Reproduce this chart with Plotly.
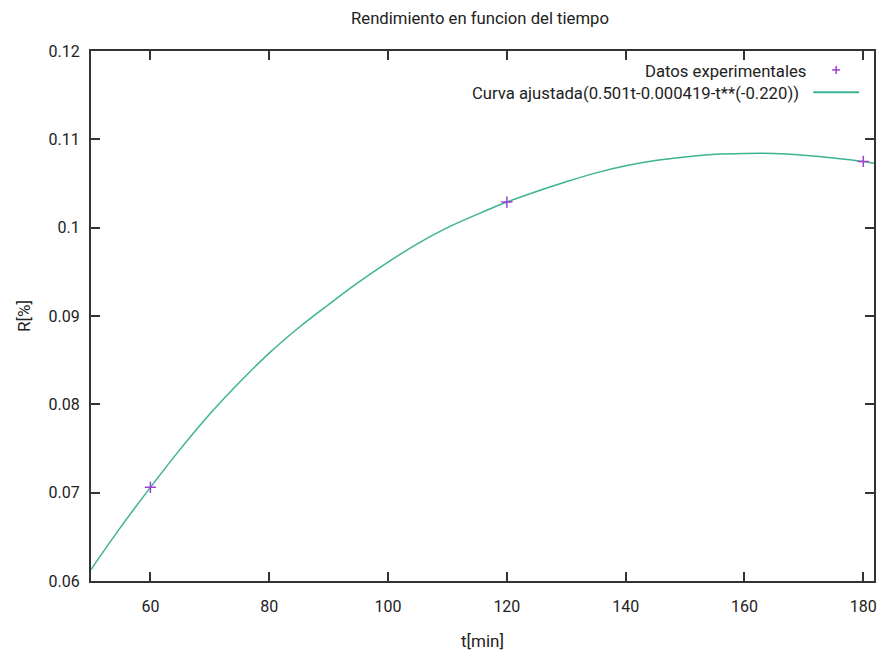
import plotly.graph_objects as go

# Experimental data
t_exp = [60, 120, 180]
r_exp = [0.0706, 0.1029, 0.1075]

# Fitted curve, values
t_fit = [50, 55, 60, 65, 70, 75, 80, 85, 90, 95, 100, 105, 110, 115, 120,
         125, 130, 135, 140, 145, 150, 155, 160, 165, 170, 175, 180, 181.8]
r_fit = [0.0613, 0.0661, 0.0706, 0.0749, 0.0789, 0.0825, 0.0858, 0.0887, 0.0913,
         0.0938, 0.0961, 0.0982, 0.1000, 0.1015, 0.1029, 0.1041, 0.1052, 0.1062,
         0.1070, 0.1076, 0.1080, 0.1083, 0.1084, 0.1084, 0.1082, 0.1079, 0.1075, 0.1073]

x_ticks = [60, 80, 100, 120, 140, 160, 180]
y_ticks = [0.06, 0.07, 0.08, 0.09, 0.10, 0.11, 0.12]
y_ticktext = ["0.06", "0.07", "0.08", "0.09", "0.1", "0.11", "0.12"]

title = "Rendimiento en funcion del tiempo"
x_label = "t[min]"
y_label = "R[%]"
legend_names = ["Datos experimentales", "Curva ajustada(0.501t-0.000419-t**(-0.220))"]

purple = "#9f3fd4"
teal = "#3db394"
axis_col = "#333333"
txt_col = "#222222"
FONT = "Roboto"

W, H = 884, 655
L, R, T, B = 91, 7, 51, 72

fig = go.Figure()
fig.add_trace(go.Scatter(x=t_fit, y=r_fit, mode="lines",
                         line=dict(color=teal, width=1.5, shape="spline", smoothing=1.0),
                         name=legend_names[1], showlegend=False))
fig.add_trace(go.Scatter(x=t_exp, y=r_exp, mode="markers",
                         marker=dict(symbol="cross-thin", size=8, line=dict(color=purple, width=1.5)),
                         name=legend_names[0], showlegend=False))

axis_common = dict(showline=True, linecolor=axis_col, linewidth=2, mirror="allticks",
                   ticks="inside", ticklen=9, tickwidth=1.5, tickcolor=axis_col,
                   showgrid=False, zeroline=False,
                   tickfont=dict(family=FONT, size=16, color=txt_col))

fig.update_layout(
    width=W, height=H,
    margin=dict(l=L, r=R, t=T, b=B),
    paper_bgcolor="white", plot_bgcolor="white",
    title=dict(text=title, x=480 / W, xanchor="center", y=1 - 18 / H, yanchor="middle",
               font=dict(family=FONT, size=16.7, color=txt_col)),
    xaxis=dict(range=[50, 181.8], tickvals=x_ticks, ticklabelstandoff=10,
               title=dict(text=x_label, font=dict(family=FONT, size=17, color=txt_col), standoff=20),
               **axis_common),
    yaxis=dict(range=[0.06, 0.12], tickvals=y_ticks, ticktext=y_ticktext, ticklabelstandoff=6,
               title=dict(text=y_label, font=dict(family=FONT, size=17, color=txt_col), standoff=14),
               **axis_common),
    showlegend=False,
)

# Gnuplot-style legend (text right-aligned, sample on the right); page pixel -> paper coords
def px_x(p):
    return (p - L) / (W - L - R)

def px_y(p):
    return 1 - (p - T) / (H - T - B)

fig.add_annotation(xref="paper", yref="paper", x=px_x(811), y=px_y(72), xanchor="right", yanchor="middle",
                   text=legend_names[0], showarrow=False, font=dict(family=FONT, size=16.7, color=txt_col))
fig.add_annotation(xref="paper", yref="paper", x=px_x(804), y=px_y(94), xanchor="right", yanchor="middle",
                   text=legend_names[1], showarrow=False, font=dict(family=FONT, size=16.7, color=txt_col))
# legend samples
fig.add_shape(type="line", xref="paper", yref="paper", x0=px_x(835), x1=px_x(843), y0=px_y(70), y1=px_y(70),
              line=dict(color=purple, width=1.5))
fig.add_shape(type="line", xref="paper", yref="paper", x0=px_x(839), x1=px_x(839), y0=px_y(66), y1=px_y(74),
              line=dict(color=purple, width=1.5))
fig.add_shape(type="line", xref="paper", yref="paper", x0=px_x(816), x1=px_x(862), y0=px_y(92.5), y1=px_y(92.5),
              line=dict(color=teal, width=2))

fig.write_html("out.html", config={"displayModeBar": False},
               post_script="document.body.style.margin='0';document.body.style.overflow='hidden';")
